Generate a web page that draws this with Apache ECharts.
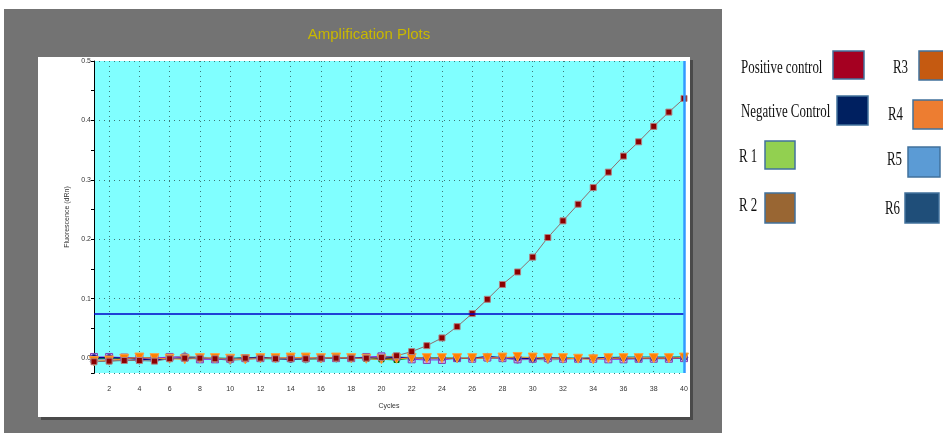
<!DOCTYPE html>
<html>
<head>
<meta charset="utf-8">
<script src="https://cdn.jsdelivr.net/npm/echarts@6/dist/echarts.min.js"></script>
<style>
  html, body { margin: 0; padding: 0; background: #fff; }
  #chart { width: 943px; height: 433px; }
</style>
</head>
<body>
<div id="chart"></div>
<script>
// cycles 1..40
let cycles = [];
for (let c = 1; c <= 40; c++) cycles.push(String(c));

let positiveCtrl = [-0.006, -0.005, -0.004, -0.004, -0.005, -0.001, 0.000, 0.000, -0.001, -0.001,
    0.000, 0.000, -0.001, -0.001, -0.001, 0.000, 0.000, 0.000, 0.000, 0.001,
    0.004, 0.011, 0.021, 0.034, 0.053, 0.075, 0.099, 0.124, 0.145, 0.170,
    0.203, 0.231, 0.259, 0.287, 0.313, 0.340, 0.364, 0.390, 0.414, 0.437];
let negativeCtrl = [0.001, 0.001, 0.000, -0.002, -0.003, -0.001, 0.000, 0.000, -0.001, -0.001,
    0.000, 0.002, -0.001, -0.002, -0.001, 0.000, 0.000, 0.000, 0.001, 0.000,
    0.001, 0.000, 0.000, 0.000, -0.001, 0.000, 0.003, 0.001, 0.000, -0.001,
    0.001, 0.000, -0.001, 0.000, 0.001, 0.000, -0.001, 0.000, 0.000, 0.001];
let r1 = [-0.002, -0.001, 0.000, 0.001, 0.001, 0.000, 0.000, 0.000, 0.000, -0.001,
    0.000, -0.001, -0.001, -0.001, -0.002, -0.001, 0.000, 0.000, -0.001, -0.002,
    -0.003, 0.000, 0.000, 0.000, 0.000, -0.001, 0.000, 0.000, 0.000, 0.000,
    0.000, 0.000, 0.000, 0.000, 0.000, 0.000, 0.000, 0.001, 0.001, 0.002];
let r2 = [0.002, 0.002, 0.001, 0.000, 0.000, 0.002, 0.001, -0.002, -0.002, -0.001,
    0.000, 0.000, 0.000, 0.000, 0.000, 0.000, 0.000, 0.000, 0.002, 0.003,
    0.002, -0.002, -0.003, -0.003, 0.000, -0.001, 0.001, 0.000, -0.002, -0.001,
    0.000, -0.001, -0.001, -0.001, -0.002, -0.002, -0.001, -0.001, -0.001, 0.000];
let r3 = [-0.005, -0.004, -0.001, 0.001, 0.000, -0.001, -0.002, 0.000, 0.000, -0.001,
    -0.002, 0.000, 0.000, 0.001, 0.001, 0.000, 0.001, 0.000, -0.001, -0.002,
    -0.001, 0.000, 0.000, 0.000, 0.000, 0.000, 0.000, 0.001, 0.002, 0.001,
    0.000, 0.000, -0.001, -0.002, 0.000, 0.000, 0.000, 0.000, 0.000, 0.001];
let r4 = [-0.006, -0.005, -0.003, -0.004, 0.000, 0.001, 0.004, 0.001, -0.001, -0.004,
    -0.002, 0.000, -0.001, -0.001, -0.002, -0.001, 0.000, 0.000, 0.000, 0.002,
    0.002, 0.000, -0.001, -0.001, 0.000, 0.000, 0.001, 0.000, -0.003, -0.002,
    -0.003, -0.002, 0.000, 0.001, 0.001, 0.001, 0.001, 0.001, 0.001, 0.001];
let r5 = [0.000, 0.000, 0.001, 0.001, 0.001, 0.001, 0.002, 0.001, 0.000, 0.000,
    0.001, 0.001, 0.000, 0.000, 0.000, 0.000, 0.000, 0.000, 0.000, 0.001,
    0.001, 0.000, 0.000, 0.000, 0.000, 0.000, 0.001, 0.001, 0.000, 0.000,
    0.000, 0.000, 0.000, 0.000, 0.001, 0.002, 0.002, 0.002, 0.002, 0.002];
let r6 = [-0.003, -0.002, -0.002, -0.002, -0.001, 0.000, 0.003, 0.002, 0.000, -0.002,
    -0.002, -0.001, 0.000, 0.000, 0.000, 0.000, 0.000, 0.000, 0.001, 0.003,
    0.003, 0.001, 0.000, -0.001, -0.001, 0.000, 0.000, 0.000, -0.001, -0.002,
    -0.002, -0.001, 0.000, 0.000, 0.000, 0.001, 0.001, 0.001, 0.000, 0.000];

let threshold = 0.075;

// legend (pasted panel on the right)
let legendNames = ['Positive control', 'Negative Control', 'R 1', 'R 2', 'R3', 'R4', 'R5', 'R6'];
let legendColors = ['#A50021', '#002060', '#92D050', '#996633', '#C55A11', '#ED7D31', '#5B9BD5', '#1F4E79'];

let legendPos = [
    // text x, text y, box x, box y, box w, box h
    [741, 68, 833, 51, 31, 28],
    [741, 112, 837, 96, 31, 29],
    [739, 157, 765, 141, 30, 28],
    [739, 206, 765, 193, 30, 30],
    [893, 68, 919, 51, 30, 29],
    [888, 115, 913, 100, 32, 29],
    [887, 160, 908, 147, 32, 30],
    [885, 209, 905, 193, 34, 30]
];

let chart = echarts.init(document.getElementById('chart'));

function lineSeries(name, data, color, symbol, size, mColor, mBorder, extra) {
    return Object.assign({
        name: name,
        type: 'line',
        data: data,
        symbol: symbol,
        symbolSize: size,
        showAllSymbol: true,
        lineStyle: { color: color, width: 1 },
        itemStyle: { color: mColor, borderColor: mBorder, borderWidth: 1 },
        emphasis: { disabled: true },
        animation: false
    }, extra || {});
}

let graphics = [
    { type: 'rect', z: -100, silent: true, shape: { x: 4, y: 9, width: 718, height: 430 },
      style: { fill: '#737373' } },
    { type: 'rect', z: -99, silent: true, shape: { x: 41, y: 60, width: 652, height: 360 },
      style: { fill: '#4a4a4a' } },
    { type: 'rect', z: -98, silent: true, shape: { x: 38, y: 57, width: 652, height: 360 },
      style: { fill: '#ffffff' } }
];

legendNames.forEach(function (n, i) {
    let p = legendPos[i];
    graphics.push({
        type: 'text', x: p[0], y: p[1], scaleX: 0.68,
        style: { text: n, fill: '#111', font: '19px "Liberation Serif", serif', verticalAlign: 'middle' }
    });
    graphics.push({
        type: 'rect', shape: { x: p[2], y: p[3], width: p[4], height: p[5] },
        style: { fill: legendColors[i], stroke: '#41719C', lineWidth: 1.5 }
    });
});

let option = {
    backgroundColor: '#ffffff',
    animation: false,
    textStyle: { fontFamily: '"Liberation Sans", Arial, sans-serif' },
    title: {
        text: 'Amplification Plots',
        left: 364,
        top: 22,
        textAlign: 'center',
        textStyle: { color: '#C9B800', fontSize: 15, fontWeight: 'normal' }
    },
    graphic: graphics,
    grid: {
        left: 94, top: 61, right: 259, bottom: 60,
        show: true, backgroundColor: '#80FFFF', borderWidth: 0
    },
    xAxis: {
        type: 'category',
        data: cycles,
        boundaryGap: false,
        name: 'Cycles',
        nameLocation: 'middle',
        nameGap: 30,
        nameTextStyle: { fontSize: 7, color: '#333' },
        axisLine: { lineStyle: { color: '#000', width: 1 } },
        axisTick: { interval: 0, length: 4, lineStyle: { color: '#000' } },
        axisLabel: {
            interval: function (i) { return i % 2 === 1; },
            fontSize: 7, color: '#333', margin: 13
        },
        splitLine: {
            show: true,
            interval: function (i) { return i % 2 === 1 && i < 39; },
            lineStyle: { color: '#3a7878', type: [1, 4], width: 1 }
        }
    },
    yAxis: {
        type: 'value',
        min: -0.025,
        max: 0.5,
        splitNumber: 5,
        name: 'Fluorescence (dRn)',
        nameLocation: 'middle',
        nameGap: 21,
        nameTextStyle: { fontSize: 7, color: '#333' },
        axisLine: { show: true, lineStyle: { color: '#000', width: 1 } },
        axisTick: { show: true, length: 3, lineStyle: { color: '#000' } },
        minorTick: { show: true, splitNumber: 2, length: 3, lineStyle: { color: '#000' } },
        axisLabel: {
            fontSize: 7, color: '#333', margin: 3,
            formatter: function (v) { return v < 0 ? '' : v.toFixed(1); }
        },
        splitLine: { show: true, lineStyle: { color: '#3a7878', type: [1, 4], width: 1 } }
    },
    series: [
        lineSeries('R 1', r1, '#00a000', 'rect', 5, '#00a000', '#006000'),
        lineSeries('R5', r5, '#008b8b', 'circle', 5, '#00a0a0', '#006060'),
        lineSeries('R6', r6, '#9aa0c8', 'circle', 6, '#a8b0d0', '#7080a0'),
        lineSeries('R4', r4, '#909090', 'diamond', 8, '#8c8c8c', '#a0a0a0'),
        lineSeries('R 2', r2, '#8a2be2', 'rect', 7, '#c8a8f0', '#8040b0'),
        lineSeries('Negative Control', negativeCtrl, '#000080', 'circle', 6, '#000080', '#4040a0', {
            markLine: {
                silent: true, symbol: 'none', label: { show: false }, precision: 4,
                data: [
                    { yAxis: threshold, lineStyle: { color: '#0000c8', width: 1.5, type: 'solid' } },
                    { xAxis: '40', lineStyle: { color: '#3399ff', width: 2.5, type: 'solid' } }
                ]
            }
        }),
        lineSeries('R3', r3, '#ff8c1a', 'triangle', 9, '#ff8000', '#ffa040', { symbolRotate: 180 }),
        lineSeries('Positive control', positiveCtrl, '#8c6e6e', 'rect', 6, '#8b0000', '#b08080')
    ]
};

chart.setOption(option);
</script>
</body>
</html>
